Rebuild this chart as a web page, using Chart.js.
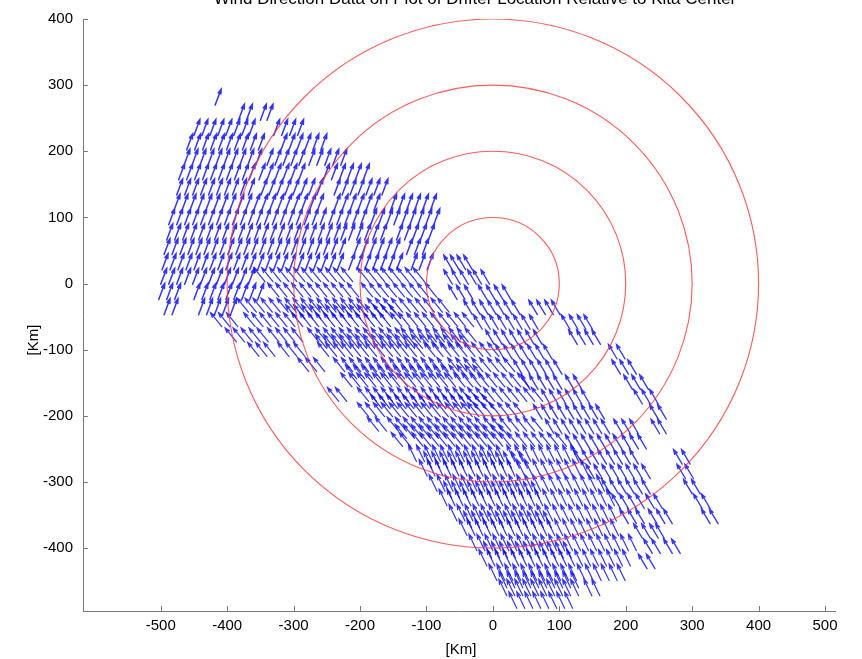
<!DOCTYPE html>
<html><head><meta charset="utf-8">
<script src="https://cdn.jsdelivr.net/npm/chart.js@4.4.1/dist/chart.umd.min.js"></script>
<style>html,body{margin:0;padding:0;background:#fff;}#wrap{width:862px;height:659px;position:relative;}</style>
</head><body><div id="wrap"><canvas id="c" width="862" height="659"></canvas></div>
<script>
const titleText = 'Wind Direction Data on Plot of Drifter Location Relative to Kita Center';
const xTitle = '[Km]';
const yTitle = '[Km]';
const xTicks = [-500,-400,-300,-200,-100,0,100,200,300,400,500];
const yTicks = [-400,-300,-200,-100,0,100,200,300,400];
const ringRadii = [100,200,300,400];

// arrow vectors (km) per group
const nwVec = [9, 24];
const bandVec = [-17, 21];
const bandLowVec = [-12, 25];
const eastVec = [-13, 22];

// rows: [y km, [x km ...]] - arrow base positions
const nwRows = [
[270,[-418]],
[247,[-383,-371,-350,-340]],
[224,[-450,-438,-426,-414,-402,-390,-378,-367,-330,-318,-306,-294]],
[202,[-461,-449,-437,-425,-413,-401,-389,-377,-365,-353,-319,-307,-295,-283,-271,-259]],
[179,[-465,-453,-441,-429,-417,-405,-393,-381,-369,-357,-340,-328,-316,-304,-292,-277,-265,-253,-241,-229]],
[157,[-473,-461,-449,-437,-425,-413,-401,-389,-377,-367,-352,-340,-328,-316,-304,-292,-255,-243,-231,-219,-207,-195]],
[134,[-476,-464,-452,-440,-428,-416,-404,-392,-380,-368,-349,-337,-325,-313,-301,-289,-277,-265,-239,-227,-215,-203,-191,-179,-167]],
[111,[-480,-468,-456,-444,-432,-420,-408,-396,-384,-372,-360,-348,-336,-324,-312,-300,-288,-276,-264,-239,-227,-215,-203,-191,-179,-154,-142,-130,-118,-106,-94]],
[89,[-488,-476,-464,-452,-440,-428,-416,-404,-392,-380,-368,-356,-344,-332,-320,-308,-296,-284,-272,-260,-247,-235,-223,-211,-199,-184,-172,-160,-149,-137,-125,-113,-101,-89]],
[66,[-491,-479,-467,-455,-443,-431,-419,-407,-395,-383,-371,-359,-347,-335,-323,-311,-299,-287,-275,-263,-251,-239,-229,-217,-205,-193,-181,-169,-145,-133,-121,-109,-97]],
[44,[-495,-483,-471,-459,-447,-435,-423,-411,-399,-387,-375,-363,-351,-339,-327,-315,-303,-291,-279,-267,-255,-243,-231,-209,-197,-185,-173,-161,-149,-130,-118,-106]],
[21,[-498,-486,-474,-462,-450,-438,-426,-414,-402,-390,-378,-366,-354,-342,-330,-318,-306,-294,-282,-270,-258,-246,-234,-217,-205,-193,-181,-169,-157,-145,-123,-111,-99]],
[-1,[-500,-488,-476,-464,-452,-440,-428,-416,-404,-392,-380,-368]],
[-24,[-503,-491,-479,-450,-438,-426,-414,-402,-390,-378,-366,-354]],
[-47,[-495,-483,-443,-431,-419,-407,-395]]
];

const bandRows = [
[3,[-343,-331,-319,-307,-295,-283,-271,-259,-247,-235,-223,-211,-187,-175,-163,-151,-139,-127,-115,-103]],
[-20,[-322,-310,-298,-286,-274,-262,-250,-238,-226,-214,-202,-181,-169,-157,-145,-133,-121,-109,-97,-85]],
[-43,[-368,-356,-344,-332,-320,-308,-296,-284,-272,-260,-248,-236,-224,-212,-200,-188,-172,-160,-148,-136,-124,-112,-100,-88,-76,-66]],
[-65,[-408,-396,-384,-358,-346,-334,-322,-310,-298,-286,-274,-262,-250,-238,-226,-214,-202,-190,-178,-166,-154,-137,-125,-113,-101,-89,-77,-65,-53,-41,-29]],
[-88,[-386,-374,-362,-350,-338,-322,-310,-298,-286,-262,-250,-238,-226,-214,-202,-190,-178,-166,-154,-142,-130,-121,-109,-97,-85,-73,-61,-49,-37,-25]],
[-110,[-352,-340,-328,-307,-295,-283,-247,-235,-223,-211,-199,-187,-175,-163,-151,-139,-127,-115,-103,-87,-75,-63,-51,-39,-27,-15,-3,9]],
[-133,[-277,-265,-253,-223,-211,-199,-187,-175,-163,-151,-139,-127,-115,-103,-91,-79,-67,-51,-39,-27,-15,-3,9,21,33]],
[-156,[-212,-200,-188,-176,-164,-152,-140,-128,-116,-104,-92,-80,-68,-56,-42,-30,-18,-6,6,18,30,42,54]],
[-178,[-232,-220,-187,-175,-163,-151,-139,-127,-115,-103,-91,-79,-67,-55,-43,-33,-21,-9,3,15,27,39,51,63,75]],
[-201,[-187,-175,-163,-151,-139,-127,-115,-103,-91,-79,-67,-55,-43,-31,-21,-12,0,12,24,36,48]],
[-223,[-172,-160,-142,-130,-118,-106,-94,-82,-70,-58,-46,-34,-22,-10,3,15,27,39,51,63,75]],
[-246,[-136,-124,-105,-93,-81,-69,-57,-45,-33,-21,-9,3,15,27,39,51,63,75,87,99,111]]
];

// extra arrows between the band rows, where the band is densest
const bandFillRows = [
[-53,[-295,-283,-271,-259,-247,-235,-223,-211,-199,-187,-175,-163,-151,-139]],
[-98,[-250,-238,-226,-214,-202,-190,-178,-166,-154,-142,-130,-118,-106,-94,-82,-70,-58,-46,-34]],
[-144,[-205,-193,-181,-169,-157,-145,-133,-121,-109,-97,-85,-73,-61,-49,-37,-25,-13]],
[-189,[-167,-155,-143,-131,-119,-107,-95,-83,-71,-59,-47,-35,-23,-11,1]],
[-234,[-130,-118,-106,-94,-82,-70,-58,-46,-34,-22,-10,2,14,26]]
];

const bandLowRows = [
[-269,[-115,-103,-91,-79,-67,-55,-43,-31,-19,-7,5,17,33,45,57,69,81,93,105,117,129]],
[-291,[-99,-87,-75,-63,-51,-39,-27,-15,-3,9,21,33,48,60,72,84,96,108,120,132,144]],
[-314,[-84,-72,-60,-48,-36,-24,-12,0,12,24,36,48,60,72,84,96,108,120,132,144,156,168]],
[-336,[-69,-57,-45,-33,-21,-9,3,15,27,39,51,63,75,87,99,111,123,135,147,159,171,183]],
[-359,[-54,-42,-30,-18,-6,6,18,30,42,54,66,78,90,102,114,126,138,150,162,174,186]],
[-381,[-39,-27,-15,-3,9,21,33,45,57,69,81,93,105,117,129,141,153,165,177,189]],
[-404,[-24,-12,0,12,24,36,48,60,72,84,96,108,120,132,144,156,168,180,192,204,216]],
[-427,[-9,3,15,27,39,51,63,75,87,99,111,123,135,147,159,171,183,195,207]],
[-449,[6,18,30,42,54,66,78,90,102,114,126,139,151,163,175,187,199]],
[-472,[21,33,45,57,69,81,93,105,117,129,149,161]],
[-491,[36,48,60,72,84,96,108,120]]
];

const bandLowFillRows = [
[-279,[-92,-80,-68,-56,-44,-32,-20,-8,4,16,28,40,52]],
[-324,[-62,-50,-38,-26,-14,-2,10,22,34,46,58,70]],
[-369,[-32,-20,-8,4,16,28,40,52,64,76,88]],
[-415,[-2,10,22,34,46,58,70,82,94,106,118]],
[-460,[21,33,45,57,69,81,93,105,117,129]]
];

const eastRows = [
[21,[-61,-51,-41,-31]],
[-1,[-61,-49,-37,-25,-17,-5]],
[-24,[-54,-42,-30,-9,3,15,27]],
[-47,[-31,-19,-7,5,17,29,41,67,79,91,101]],
[-69,[-16,-4,8,20,32,44,56,68,116,128,140,150]],
[-92,[2,14,26,38,50,62,74,127,139,151,162]],
[-114,[17,29,41,53,65,77,89,187,199]],
[-137,[44,56,68,80,92,104,192,204,216]],
[-160,[56,68,80,92,104,122,134,210,222,234]],
[-182,[86,98,110,122,134,146,225,237,249]],
[-205,[74,86,98,110,122,134,146,158,168,249,261]],
[-227,[92,104,116,128,140,152,164,176,195,207,219,251,261]],
[-250,[122,134,146,158,170,182,194,207,219,231]],
[-273,[135,147,159,171,183,195,207,219,285,297]],
[-295,[153,165,177,189,201,213,225,237,290,302]],
[-318,[177,189,201,213,225,237,300,312]],
[-340,[192,204,216,228,243,255,315,327]],
[-363,[204,216,228,247,259,270,327,339]],
[-385,[225,237,249,258]],
[-408,[240,252,270,282]],
[-431,[232,244]]
];

function rowsToPoints(rows, vec) {
  const pts = [];
  rows.forEach(([yv, xs]) => xs.forEach(xv => pts.push({x: xv, y: yv, u: vec[0], v: vec[1]})));
  return pts;
}

const ARROW_COLOR = 'rgba(0,0,255,0.8)';
const RING_COLOR = 'rgba(255,50,50,0.8)';
const AXIS_COLOR = '#7a7a7a';
const FONT = 'Liberation Sans, Arial, sans-serif';

const quiverPlugin = {
  id: 'quiver',
  afterDatasetsDraw(chart) {
    const {ctx, chartArea: a, scales: {x, y}} = chart;
    ctx.save();
    ctx.beginPath();
    ctx.rect(a.left, a.top, a.right - a.left, a.bottom - a.top);
    ctx.clip();
    chart.data.datasets.forEach(ds => {
      if (!ds.quiver) return;
      ctx.strokeStyle = ds.borderColor;
      ctx.lineWidth = ds.borderWidth;
      ctx.lineCap = 'round';
      ctx.beginPath();
      ds.data.forEach(p => {
        const x0 = x.getPixelForValue(p.x), y0 = y.getPixelForValue(p.y);
        const x1 = x.getPixelForValue(p.x + p.u), y1 = y.getPixelForValue(p.y + p.v);
        const dx = x1 - x0, dy = y1 - y0;
        ctx.moveTo(x0, y0); ctx.lineTo(x1, y1);
        const hl = 0.27, hw = 0.09;
        ctx.moveTo(x1 - hl * dx + hw * dy, y1 - hl * dy - hw * dx);
        ctx.lineTo(x1, y1);
        ctx.lineTo(x1 - hl * dx - hw * dy, y1 - hl * dy + hw * dx);
      });
      ctx.stroke();
    });
    const cx = x.getPixelForValue(0), cy = y.getPixelForValue(0);
    ctx.strokeStyle = RING_COLOR;
    ctx.lineWidth = 1.1;
    ringRadii.forEach(r => {
      const rx = x.getPixelForValue(r) - cx;
      const ry = cy - y.getPixelForValue(r);
      ctx.beginPath();
      ctx.ellipse(cx, cy, rx, ry, 0, 0, Math.PI * 2);
      ctx.stroke();
    });
    ctx.restore();
  },
  afterDraw(chart) {
    const {ctx, chartArea: a, scales: {x, y}} = chart;
    ctx.save();
    ctx.strokeStyle = AXIS_COLOR;
    ctx.lineWidth = 1;
    ctx.beginPath();
    xTicks.forEach(v => {
      const px = Math.round(x.getPixelForValue(v)) + 0.5;
      ctx.moveTo(px, a.bottom); ctx.lineTo(px, a.bottom - 5);
    });
    yTicks.forEach(v => {
      const py = Math.round(y.getPixelForValue(v)) + 0.5;
      ctx.moveTo(a.left, py); ctx.lineTo(a.left + 5, py);
    });
    ctx.stroke();
    ctx.fillStyle = '#000';
    ctx.textAlign = 'center';
    ctx.textBaseline = 'alphabetic';
    ctx.font = '17px ' + FONT;
    ctx.fillText(titleText, 475, 4);
    ctx.font = '15px ' + FONT;
    ctx.fillText(xTitle, 461, 654);
    ctx.translate(38, 340);
    ctx.rotate(-Math.PI / 2);
    ctx.fillText(yTitle, 0, 0);
    ctx.restore();
  }
};

new Chart(document.getElementById('c'), {
  type: 'scatter',
  data: {
    datasets: [
      {label: 'nw', data: rowsToPoints(nwRows, nwVec), quiver: true, borderColor: ARROW_COLOR, borderWidth: 1.5, pointRadius: 0},
      {label: 'band', data: rowsToPoints(bandRows, bandVec), quiver: true, borderColor: ARROW_COLOR, borderWidth: 1.2, pointRadius: 0},
      {label: 'bandFill', data: rowsToPoints(bandFillRows, bandVec), quiver: true, borderColor: ARROW_COLOR, borderWidth: 1.2, pointRadius: 0},
      {label: 'bandLow', data: rowsToPoints(bandLowRows, bandLowVec), quiver: true, borderColor: ARROW_COLOR, borderWidth: 1.2, pointRadius: 0},
      {label: 'bandLowFill', data: rowsToPoints(bandLowFillRows, bandLowVec), quiver: true, borderColor: ARROW_COLOR, borderWidth: 1.2, pointRadius: 0},
      {label: 'east', data: rowsToPoints(eastRows, eastVec), quiver: true, borderColor: ARROW_COLOR, borderWidth: 1.3, pointRadius: 0}
    ]
  },
  options: {
    responsive: false,
    animation: false,
    events: [],
    devicePixelRatio: 1,
    layout: {padding: {top: 16, right: 27, left: 0, bottom: 0}},
    plugins: {legend: {display: false}, tooltip: {enabled: false}, title: {display: false}},
    scales: {
      x: {
        type: 'linear', min: -617, max: 515,
        grid: {display: false, drawTicks: false},
        border: {display: true, color: AXIS_COLOR, width: 1},
        ticks: {font: {family: FONT, size: 15}, color: '#000', padding: 6, maxRotation: 0, autoSkip: false},
        afterBuildTicks: s => { s.ticks = xTicks.map(v => ({value: v})); },
        afterFit: s => { s.height = 48; }
      },
      y: {
        type: 'linear', min: -495, max: 400,
        grid: {display: false, drawTicks: false},
        border: {display: true, color: AXIS_COLOR, width: 1},
        ticks: {font: {family: FONT, size: 15}, color: '#000', padding: 10, autoSkip: false},
        afterBuildTicks: s => { s.ticks = yTicks.map(v => ({value: v})); },
        afterFit: s => { s.width = 83; }
      }
    }
  },
  plugins: [quiverPlugin]
});
</script>
</body></html>
